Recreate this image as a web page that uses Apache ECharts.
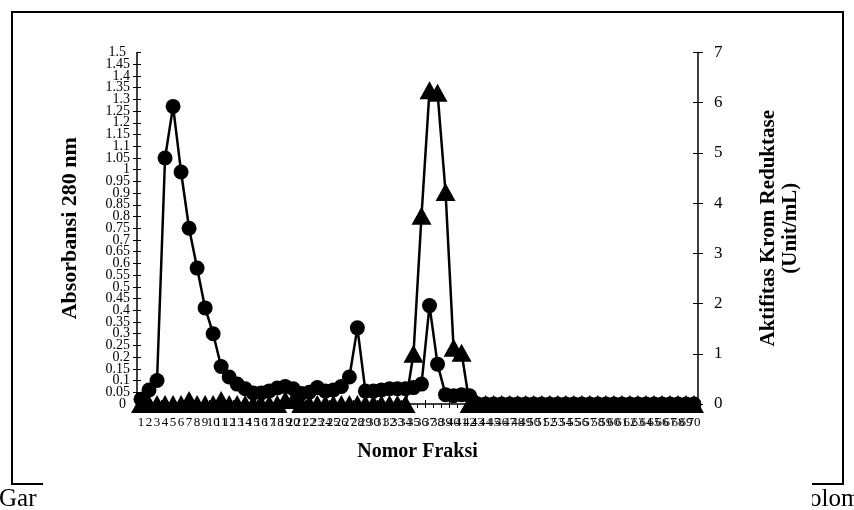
<!DOCTYPE html>
<html>
<head>
<meta charset="utf-8">
<script src="https://cdn.jsdelivr.net/npm/echarts@6/dist/echarts.min.js"></script>
<style>
html,body{margin:0;padding:0;background:#fff;}
#chart{width:854px;height:510px;}
</style>
</head>
<body>
<div id="chart"></div>
<script>
var fractions = ['1','2','3','4','5','6','7','8','9','10','11','12','13','14','15','16','17','18','19','20',
'21','22','23','24','25','26','27','28','29','30','31','32','33','34','35','36','37','38','39','40',
'41','42','43','44','45','46','47','48','49','50','51','52','53','54','55','56','57','58','59','60',
'61','62','63','64','65','66','67','68','69','70'];

var absorbance = [0.02,0.06,0.1,1.05,1.27,0.99,0.75,0.58,0.41,0.30,
0.16,0.115,0.085,0.065,0.047,0.047,0.056,0.068,0.075,0.065,
0.045,0.05,0.07,0.055,0.06,0.075,0.115,0.325,0.055,0.055,
0.06,0.065,0.065,0.065,0.07,0.085,0.42,0.17,0.04,0.035,
0.04,0.035,0,0,0,0,0,0,0,0,
0,0,0,0,0,0,0,0,0,0,
0,0,0,0,0,0,0,0,0,0];

var activity = [0,0,0,0,0,0,0.08,0,0,0,
0.08,0,0,0,0,0,0,0,0.08,0.08,
0,0,0,0,0,0,0,0,0,0,
0,0,0,0,1.0,3.75,6.25,6.2,4.22,1.12,
1.02,0,0,0,0,0,0,0,0,0,
0,0,0,0,0,0,0,0,0,0,
0,0,0,0,0,0,0,0,0,0];

var leftTicks = {min:0, max:1.5, interval:0.05};
var rightTicks = {min:0, max:7, interval:1};

var serif = 'Liberation Serif, Times New Roman, serif';
var chart = echarts.init(document.getElementById('chart'));

function fmt(v){ return String(+v.toFixed(2)); }
function fmtEnds(v){ return (v === leftTicks.min || v === leftTicks.max) ? fmt(v) : ''; }

chart.setOption({
  backgroundColor:'#fff',
  animation:false,
  grid:{left:137, right:156, top:52.5, bottom:106, containLabel:false},
  xAxis:[{
    type:'category', data:fractions, boundaryGap:true, position:'bottom',
    name:'Nomor Fraksi', nameLocation:'middle', nameGap:38,
    nameTextStyle:{fontFamily:serif, fontSize:20, fontWeight:'bold', color:'#000'},
    axisLine:{lineStyle:{color:'#000', width:1.5}},
    axisTick:{show:true, length:4, lineStyle:{color:'#000'}},
    axisLabel:{interval:0, fontFamily:serif, fontSize:13, color:'#000', margin:12},
    splitLine:{show:false}
  },{
    type:'category', data:fractions, boundaryGap:true, position:'bottom',
    axisLine:{show:false},
    axisTick:{show:true, inside:true, length:4, lineStyle:{color:'#000'}},
    axisLabel:{show:false}, splitLine:{show:false}
  }],
  yAxis:[{
    type:'value', position:'left', min:leftTicks.min, max:leftTicks.max, interval:leftTicks.interval,
    name:'Absorbansi 280 nm', nameLocation:'middle', nameGap:56, nameRotate:90,
    nameTextStyle:{fontFamily:serif, fontSize:22, fontWeight:'bold', color:'#000'},
    axisLine:{show:true, lineStyle:{color:'#000', width:1.5}},
    axisTick:{show:true, length:4, lineStyle:{color:'#000'}},
    axisLabel:{fontFamily:serif, fontSize:14, color:'#000', margin:7, formatter:fmt, showMinLabel:false, showMaxLabel:false, hideOverlap:false},
    splitLine:{show:false}
  },{
    type:'value', position:'right', min:rightTicks.min, max:rightTicks.max, interval:rightTicks.interval,
    name:'Aktifitas Krom Reduktase\n(Unit/mL)', nameLocation:'middle', nameGap:60, nameRotate:90,
    nameTextStyle:{fontFamily:serif, fontSize:21, fontWeight:'bold', color:'#000', lineHeight:22, align:'center'},
    axisLine:{show:true, lineStyle:{color:'#000', width:1.5}},
    axisTick:{show:true, length:5, lineStyle:{color:'#000'}},
    axisLabel:{fontFamily:serif, fontSize:17, color:'#000', margin:16, showMinLabel:true, showMaxLabel:true},
    splitLine:{show:false}
  },{
    type:'value', position:'left', min:leftTicks.min, max:leftTicks.max, interval:leftTicks.interval,
    axisLine:{show:false},
    axisTick:{show:true, inside:true, length:4, lineStyle:{color:'#000'}},
    axisLabel:{show:true, fontFamily:serif, fontSize:14, color:'#000', margin:11, formatter:fmtEnds, showMinLabel:true, showMaxLabel:true},
    splitLine:{show:false}
  },{
    type:'value', position:'right', min:rightTicks.min, max:rightTicks.max, interval:rightTicks.interval,
    axisLine:{show:false},
    axisTick:{show:true, inside:true, length:5, lineStyle:{color:'#000'}},
    axisLabel:{show:false}, splitLine:{show:false}
  }],
  series:[{
    name:'Absorbansi', type:'line', xAxisIndex:0, yAxisIndex:0, data:absorbance,
    symbol:'circle', symbolSize:15, showAllSymbol:true,
    lineStyle:{color:'#000', width:2.5}, itemStyle:{color:'#000'}, z:2
  },{
    name:'Aktifitas', type:'line', xAxisIndex:0, yAxisIndex:1, data:activity,
    symbol:'triangle', symbolSize:[20,18], showAllSymbol:true,
    lineStyle:{color:'#000', width:2.5}, itemStyle:{color:'#000'}, z:3
  }],
  graphic:[
    {type:'rect', shape:{x:12, y:12, width:831, height:472}, style:{fill:'none', stroke:'#000', lineWidth:2}, z:0, silent:true},
    {type:'text', left:-1, top:487, style:{text:'Gar', fontFamily:serif, fontSize:25, fill:'#000'}, z:5},
    {type:'text', left:791, top:487, style:{text:'Kolom', fontFamily:serif, fontSize:25, fill:'#000'}, z:5},
    {type:'rect', shape:{x:43, y:470, width:769, height:40}, style:{fill:'#fff'}, z:6, silent:true}
  ]
});
</script>
</body>
</html>
